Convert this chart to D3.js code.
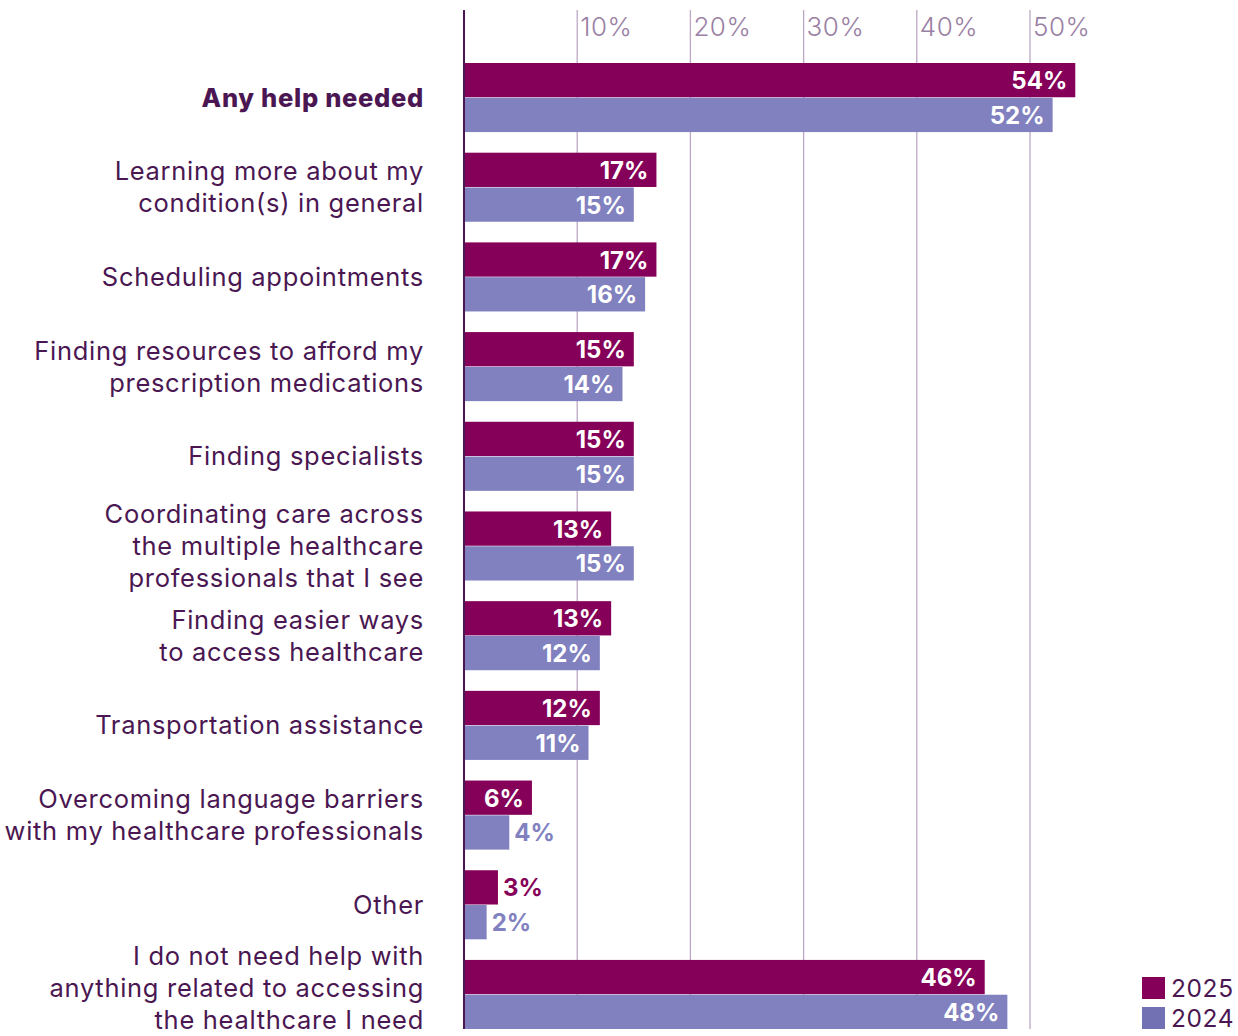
<!DOCTYPE html>
<html>
<head>
<meta charset="utf-8">
<script src="https://cdn.jsdelivr.net/npm/d3@7"></script>
<style>
  html, body { margin: 0; padding: 0; background: #ffffff; }
  svg { display: block; }
  text { font-family: Inter, "Noto Sans", sans-serif; }
</style>
</head>
<body>
<svg id="chart" width="1238" height="1036"></svg>
<script>
// Help needed with accessing healthcare, share of respondents by year
const categories = [
  ["Any help needed"],
  ["Learning more about my", "condition(s) in general"],
  ["Scheduling appointments"],
  ["Finding resources to afford my", "prescription medications"],
  ["Finding specialists"],
  ["Coordinating care across", "the multiple healthcare", "professionals that I see"],
  ["Finding easier ways", "to access healthcare"],
  ["Transportation assistance"],
  ["Overcoming language barriers", "with my healthcare professionals"],
  ["Other"],
  ["I do not need help with", "anything related to accessing", "the healthcare I need"]
];
const seriesNames = ["2025", "2024"];
const values2025 = [54, 17, 17, 15, 15, 13, 13, 12, 6, 3, 46];
const values2024 = [52, 15, 16, 14, 15, 15, 12, 11, 4, 2, 48];
const tickValues = [10, 20, 30, 40, 50];

const colors = { "2025": "#850058", "2024": "#8181bf" };
const legendColors = { "2025": "#850058", "2024": "#7171b3" };
const labelColor = "#4a1752";
const gridColor = "#bda7c5";
const tickColor = "#9a80a4";

const width = 1238, height = 1036;
const svg = d3.select("#chart");
const keys = categories.map((c, i) => i);

const x = d3.scaleLinear().domain([0, 60]).range([464, 464 + 679.2]);
const y = d3.scaleBand().domain(keys).range([63, 1029]).paddingInner(0.23).paddingOuter(0);
const ySub = d3.scaleBand().domain(seriesNames).range([0, y.bandwidth()]).paddingInner(0.015);

// gridlines and tick labels
const grid = svg.append("g");
grid.selectAll("line").data(tickValues).join("line")
  .attr("x1", d => x(d)).attr("x2", d => x(d))
  .attr("y1", 10).attr("y2", 1029)
  .attr("stroke", gridColor).attr("stroke-width", 1.3);
grid.selectAll("text").data(tickValues).join("text")
  .attr("x", d => x(d) + 3).attr("y", 36)
  .attr("fill", tickColor).attr("font-size", 26).attr("font-weight", 300)
  .attr("letter-spacing", 0.5)
  .text(d => d + "%");

// bars
const rows = keys.map(i => ({ i, vals: [
  { s: "2025", v: values2025[i] },
  { s: "2024", v: values2024[i] }
]}));

const groups = svg.append("g").selectAll("g").data(rows).join("g")
  .attr("transform", d => `translate(0,${y(d.i)})`);

groups.selectAll("rect").data(d => d.vals).join("rect")
  .attr("x", x(0)).attr("y", d => ySub(d.s))
  .attr("width", d => x(d.v) - x(0)).attr("height", ySub.bandwidth())
  .attr("fill", d => colors[d.s]);

// value labels: inside the bar when it fits, otherwise just past its end
groups.selectAll("text").data(d => d.vals).join("text")
  .attr("y", d => ySub(d.s) + ySub.bandwidth() / 2 + 9)
  .attr("font-size", 24).attr("font-weight", 700)
  .each(function(d) {
    const inside = x(d.v) - x(0) > 62;
    d3.select(this)
      .attr("x", inside ? x(d.v) - 8 : x(d.v) + 5)
      .attr("text-anchor", inside ? "end" : "start")
      .attr("fill", inside ? "#ffffff" : colors[d.s]);
  })
  .text(d => d.v + "%");

// baseline
svg.append("line")
  .attr("x1", x(0)).attr("x2", x(0)).attr("y1", 10).attr("y2", 1029)
  .attr("stroke", labelColor).attr("stroke-width", 2);

// category labels, centred on their bar pair and kept inside the canvas
const lineH = 32;
svg.append("g").selectAll("text").data(rows).join("text")
  .attr("text-anchor", "end")
  .attr("fill", labelColor)
  .attr("font-size", 25.5)
  .attr("letter-spacing", 0.7)
  .attr("font-weight", d => d.i === 0 ? 800 : 400)
  .each(function(d) {
    const lines = categories[d.i];
    const cy = y(d.i) + y.bandwidth() / 2;
    let top = cy - (lines.length - 1) * lineH / 2 + 9;
    const lastBaseline = top + (lines.length - 1) * lineH;
    if (lastBaseline > height - 7) top -= lastBaseline - (height - 7);
    d3.select(this).selectAll("tspan").data(lines).join("tspan")
      .attr("x", 424).attr("y", (l, k) => top + k * lineH)
      .text(l => l);
  });

// legend
const legend = svg.append("g").selectAll("g").data(seriesNames).join("g")
  .attr("transform", (d, k) => `translate(1142,${977 + k * 30})`);
legend.append("rect").attr("width", 23).attr("height", 22).attr("fill", d => legendColors[d]);
legend.append("text").attr("x", 29).attr("y", 20)
  .attr("fill", labelColor).attr("font-size", 24.5).attr("letter-spacing", 0.6).text(d => d);
</script>
</body>
</html>
